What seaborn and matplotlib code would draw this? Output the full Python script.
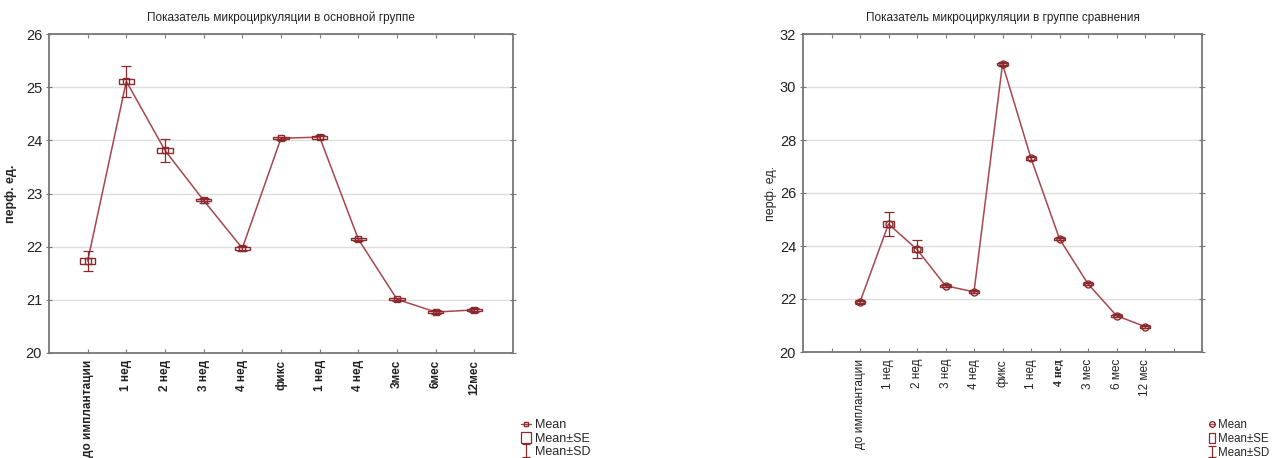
import numpy as np
import pandas as pd
import matplotlib
matplotlib.use("Agg")
import matplotlib.pyplot as plt
import seaborn as sns
from matplotlib.patches import Rectangle
from matplotlib.lines import Line2D

# ---- data ----
categories = ["до имплантации", "1 нед", "2 нед", "3 нед", "4 нед", "фикс",
              "1 нед", "4 нед", "3мес", "6мес", "12мес"]
categories_comp = ["до имплантации", "1 нед", "2 нед", "3 нед", "4 нед", "фикс",
                   "1 нед", "4 нед", "3 мес", "6 мес", "12 мес"]

mean_main = [21.73, 25.11, 23.81, 22.87, 21.97, 24.04, 24.06, 22.14, 21.01, 20.77, 20.81]
se_main = [0.05, 0.05, 0.05, 0.02, 0.03, 0.02, 0.03, 0.02, 0.02, 0.02, 0.02]
sd_main = [0.18, 0.29, 0.22, 0.04, 0.05, 0.03, 0.04, 0.03, 0.03, 0.04, 0.03]

mean_comp = [21.89, 24.83, 23.87, 22.50, 22.27, 30.87, 27.31, 24.27, 22.57, 21.37, 20.96]
se_comp = [0.04, 0.12, 0.10, 0.04, 0.04, 0.05, 0.05, 0.04, 0.04, 0.04, 0.04]
sd_comp = [0.06, 0.44, 0.34, 0.06, 0.06, 0.07, 0.07, 0.06, 0.06, 0.06, 0.06]

title_main = "Показатель микроциркуляции в основной группе"
title_comp = "Показатель микроциркуляции в группе сравнения"
ylabel = "перф. ед."

LINE = "#a8474b"
DARK = "#8a2a2e"
SPINE = "#777777"

sns.set_style("white")
plt.rcParams["font.family"] = ["Liberation Sans", "DejaVu Sans"]

fig = plt.figure(figsize=(12.74, 4.58), dpi=100)
ax1 = fig.add_axes([49/1274, 1-353/458, (513-49)/1274, (353-34)/458])
ax2 = fig.add_axes([803/1274, 1-352/458, (1202-803)/1274, (352-34)/458])


def draw(ax, cats, mean, se, sd, marker, box_w, msize):
    pos = np.arange(len(cats))
    df = pd.DataFrame({"pos": pos, "mean": mean})
    sns.lineplot(data=df, x="pos", y="mean", ax=ax, color=LINE, lw=1.1,
                 marker=marker, markersize=msize, markerfacecolor="none",
                 markeredgecolor=DARK, markeredgewidth=1.0, zorder=3)
    # Mean ± SE boxes
    ax.bar(pos, 2*np.array(se), bottom=np.array(mean)-np.array(se), width=box_w,
           fill=False, edgecolor=DARK, linewidth=1.0, zorder=4)
    # Mean ± SD whiskers
    ax.errorbar(pos, mean, yerr=sd, fmt="none", ecolor=DARK, elinewidth=0.9,
                capsize=3.5, capthick=0.9, zorder=4)


draw(ax1, categories, mean_main, se_main, sd_main, "s", 0.40, 4)
draw(ax2, categories_comp, mean_comp, se_comp, sd_comp, "o", 0.38, 5)

# axes styling
for ax in (ax1, ax2):
    for s in ax.spines.values():
        s.set_visible(True)
        s.set_color(SPINE)
        s.set_linewidth(1.3)
    ax.yaxis.grid(True, color="#dedede", lw=1.0)
    ax.xaxis.grid(False)
    ax.set_axisbelow(True)
    ax.set_xlabel("")
    ax.tick_params(axis="x", direction="in", length=3, color=SPINE, top=True, bottom=True, pad=5)
    ax.tick_params(axis="y", direction="inout", length=4, color=SPINE, right=True, left=True,
                   labelsize=10.5, labelcolor="#222222", pad=3)

ax1.set_xlim(-1, 11)
ax1.set_ylim(20, 26)
ax1.set_yticks(np.arange(20, 27, 1))
ax1.set_xticks(np.arange(len(categories)))
ax1.set_xticklabels(categories, rotation=90, fontsize=8.5, fontweight="bold", color="#222222")
ax1.set_title(title_main, fontsize=8.5, pad=9, color="#222222")
ax1.set_ylabel(ylabel, fontsize=9, fontweight="bold", labelpad=6)

ax2.set_xlim(-2, 12)
ax2.set_ylim(20, 32)
ax2.set_yticks(np.arange(20, 33, 2))
ax2.set_xticks(np.arange(-1, 13))
ax2.set_xticklabels([""] + categories_comp + ["", ""], rotation=90, fontsize=8.5, color="#222222")
lbl = ax2.get_xticklabels()[8]
lbl.set_fontfamily("Liberation Serif")
lbl.set_fontweight("bold")
ax2.set_title(title_comp, fontsize=8.5, pad=9, color="#222222")
ax2.set_ylabel(ylabel, fontsize=9, labelpad=2)

# legends
def legend_handles(marker, msize):
    h_mean = Line2D([0], [0], color=LINE, lw=1.0, marker=marker, markersize=msize - 1,
                    markerfacecolor="none", markeredgecolor=DARK)
    h_se = Rectangle((0, 0), 1, 1, fill=False, edgecolor=DARK, lw=0.9)
    h_sd = ax1.errorbar([np.nan], [np.nan], yerr=[1], fmt="none", ecolor=DARK,
                        elinewidth=0.9, capsize=3, capthick=0.9)
    return [h_mean, h_se, h_sd]

labels = ["Mean", "Mean±SE", "Mean±SD"]
fig.legend(legend_handles("s", 4), labels, loc="lower left", bbox_to_anchor=(0.405, -0.012),
           frameon=False, fontsize=9, handlelength=0.8, handleheight=1.0, handletextpad=0.3,
           labelspacing=0.05, borderaxespad=0.0)
fig.legend(legend_handles("o", 5), labels, loc="lower left", bbox_to_anchor=(0.945, -0.012),
           frameon=False, fontsize=8.3, handlelength=0.6, handleheight=1.0, handletextpad=0.25,
           labelspacing=0.15, borderaxespad=0.0)

fig.savefig("out.png", dpi=100)
